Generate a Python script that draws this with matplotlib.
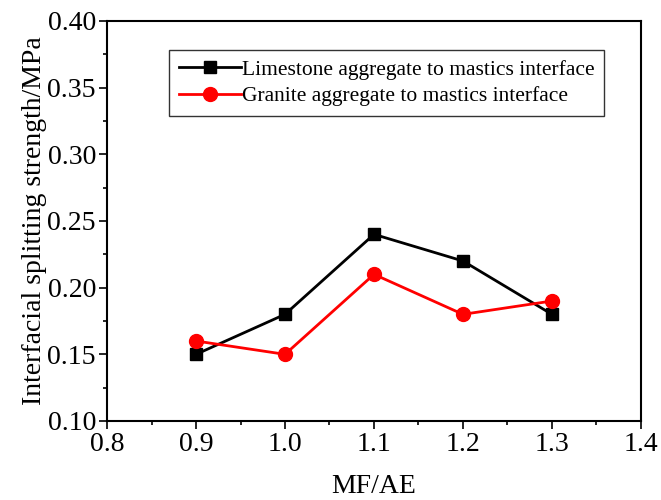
import matplotlib
matplotlib.use('Agg')
import matplotlib.pyplot as plt
from matplotlib.ticker import MultipleLocator

plt.rcParams['font.family'] = ['Liberation Serif', 'DejaVu Serif']

mf_ae = [0.9, 1.0, 1.1, 1.2, 1.3]
limestone = [0.15, 0.18, 0.24, 0.22, 0.18]
granite = [0.16, 0.15, 0.21, 0.18, 0.19]

fig = plt.figure(figsize=(6.61, 5.0), dpi=100)
ax = fig.add_axes([0.1619, 0.158, 0.8078, 0.80])

ax.plot(mf_ae, limestone, color='black', lw=2, marker='s', ms=9,
        label='Limestone aggregate to mastics interface')
ax.plot(mf_ae, granite, color='red', lw=2, marker='o', ms=10,
        label='Granite aggregate to mastics interface')

ax.set_xlim(0.8, 1.4)
ax.set_ylim(0.10, 0.40)
ax.xaxis.set_major_locator(MultipleLocator(0.1))
ax.xaxis.set_minor_locator(MultipleLocator(0.05))
ax.yaxis.set_major_locator(MultipleLocator(0.05))
ax.yaxis.set_minor_locator(MultipleLocator(0.025))
ax.xaxis.set_major_formatter(plt.FormatStrFormatter('%.1f'))
ax.yaxis.set_major_formatter(plt.FormatStrFormatter('%.2f'))
ax.tick_params(which='major', direction='out', length=6, width=1.2,
               labelsize=20, pad=2)
ax.tick_params(which='minor', direction='out', length=3, width=1.2)
for s in ax.spines.values():
    s.set_linewidth(1.5)

ax.set_xlabel('MF/AE', fontsize=20, labelpad=12)
ax.set_ylabel('Interfacial splitting strength/MPa', fontsize=20, labelpad=0)

leg = ax.legend(loc='upper left', bbox_to_anchor=(0.116, 0.9275), fontsize=15.5,
                frameon=True, fancybox=False, edgecolor='black',
                handlelength=2.9, handletextpad=0.05, borderpad=0.45,
                labelspacing=0.3, borderaxespad=0)
leg.get_frame().set_linewidth(1.0)

fig.savefig('out.png', dpi=100)
